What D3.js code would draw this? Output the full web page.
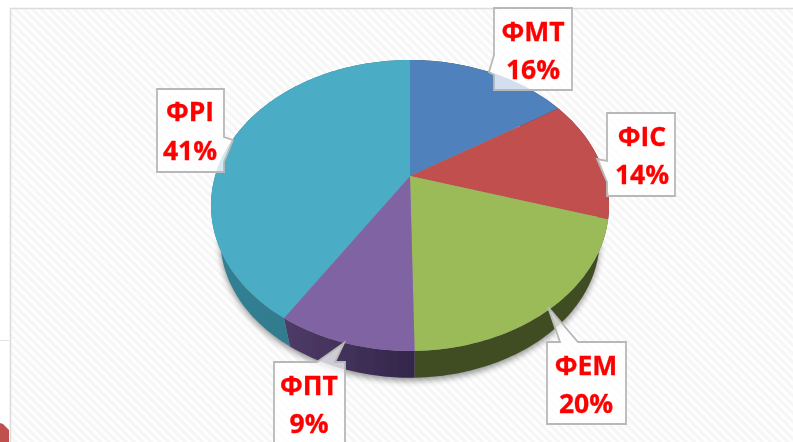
<!DOCTYPE html>
<html>
<head>
<meta charset="utf-8">
<script src="https://cdn.jsdelivr.net/npm/d3@7"></script>
<style>
  html, body { margin: 0; padding: 0; background: #fff; overflow: hidden; }
  svg { display: block; }
</style>
</head>
<body>
<div id="chart"></div>
<script>
// Chart data
const categories = ["ΦMT", "ΦIC", "ΦEM", "ΦПT", "ΦPI"];
const values = [16, 13.7, 20, 9.3, 41];
const percentLabels = ["16%", "14%", "20%", "9%", "41%"];

const topColors = ["#4f81bd", "#c0504d", "#9bbb59", "#8064a2", "#4bacc6"];
const sideColors = [["#2a4464", "#2a4464"], ["#66292a", "#66292a"], ["#3f4d23", "#3f4d23"], ["#4e3b68", "#33264a"], ["#338196", "#2e7183"]];

const width = 793;
const height = 442;

// Callout outlines: label box, then the pointer running to the slice
const callouts = [
  { outline: [[494, 8], [572, 8], [572, 90], [494, 90], [494, 75], [489, 72], [494, 55]], textX: 533, textY: [41, 79] },
  { outline: [[607, 113], [675, 113], [675, 196], [607, 196], [607, 182], [597, 159], [607, 161]], textX: 642, textY: [146, 184] },
  { outline: [[547, 342], [560, 342], [548, 307], [578, 342], [626, 342], [626, 424], [547, 424]], textX: 586, textY: [375, 413] },
  { outline: [[274, 362], [317, 362], [344, 343], [335, 362], [345, 362], [345, 460], [274, 460]], textX: 309, textY: [395, 433] },
  { outline: [[157, 89], [224, 89], [224, 137], [233, 140], [224, 162], [224, 172], [157, 172]], textX: 190, textY: [121, 160] }
];

const svg = d3.select("#chart")
  .append("svg")
  .attr("width", width)
  .attr("height", height);

const defs = svg.append("defs");

// Faint diagonal hatch of the plot area
const hatch = defs.append("pattern")
  .attr("id", "hatch")
  .attr("width", 6)
  .attr("height", 6)
  .attr("patternUnits", "userSpaceOnUse")
  .attr("patternTransform", "rotate(45)");
hatch.append("rect").attr("width", 6).attr("height", 6).attr("fill", "#fefefe");
hatch.append("rect").attr("width", 6).attr("height", 3).attr("fill", "#f6f6f6");

defs.append("filter").attr("id", "shadow")
  .attr("x", "-10%").attr("y", "-10%").attr("width", "120%").attr("height", "120%")
  .append("feGaussianBlur").attr("stdDeviation", 3);

defs.append("filter").attr("id", "soft")
  .attr("x", "-5%").attr("y", "-5%").attr("width", "110%").attr("height", "110%")
  .append("feGaussianBlur").attr("stdDeviation", 0.45);

// Side wall shading, lighter towards the left
sideColors.forEach((c, i) => {
  const g = defs.append("linearGradient")
    .attr("id", "side" + i)
    .attr("x1", 0).attr("x2", 1).attr("y1", 0).attr("y2", 0);
  g.append("stop").attr("offset", "0%").attr("stop-color", c[0]);
  g.append("stop").attr("offset", "100%").attr("stop-color", c[1]);
});

// Frame
svg.append("rect")
  .attr("x", 10.5).attr("y", 8.5)
  .attr("width", width + 20).attr("height", height + 20)
  .attr("fill", "url(#hatch)")
  .attr("stroke", "#dcdcdc")
  .attr("stroke-width", 1.5);

// Bits of the neighbouring slide at the left edge
svg.append("line")
  .attr("x1", 0).attr("x2", 9).attr("y1", 340.5).attr("y2", 340.5)
  .attr("stroke", "#e2e2e2");
svg.append("path")
  .attr("d", d3.line()([[0, 423], [3, 424], [9, 430], [9, 442], [0, 442]]))
  .attr("fill", "#c0504d");

// Pie seen in perspective: the disc is projected, so the apex sits above the ellipse centre
const pie = d3.pie().sort(null).value(d => d)(values);

const cx = 410;
const apexY = 176;
const scaleX = 194.9;
const scaleY = 139.5;
const tilt = -0.2027;

function project(angle, r, shrink, dy) {
  const u = r * Math.sin(angle);
  const v = -r * Math.cos(angle);
  const w = 1 + tilt * v;
  return [cx + shrink * scaleX * u / w, apexY + dy + shrink * scaleY * v / w];
}

function arcPoints(d, shrink, dy) {
  const n = Math.max(2, Math.ceil((d.endAngle - d.startAngle) * 40));
  return d3.range(n + 1).map(i => {
    const a = d.startAngle + (d.endAngle - d.startAngle) * i / n;
    return project(a, 1, shrink, dy);
  });
}

const line = d3.line();
const lowerShrink = 0.953;
const lowerDy = 35;

// Soft shadow under the pie
svg.append("path")
  .attr("d", line(d3.range(0, 361, 3).map(a => project(a * Math.PI / 180, 1, lowerShrink, lowerDy + 3))) + "Z")
  .attr("fill", "#000")
  .attr("opacity", 0.42)
  .attr("filter", "url(#shadow)");

// Side wall
const pieGroup = svg.append("g").attr("filter", "url(#soft)");

pieGroup.selectAll(".side")
  .data(pie)
  .enter()
  .append("path")
  .attr("class", "side")
  .attr("d", d => line(arcPoints(d, 1, 0).concat(arcPoints(d, lowerShrink, lowerDy).reverse())) + "Z")
  .attr("fill", (d, i) => `url(#side${i})`);

// Top face
pieGroup.selectAll(".slice")
  .data(pie)
  .enter()
  .append("path")
  .attr("class", "slice")
  .attr("d", d => line([[cx, apexY]].concat(arcPoints(d, 1, 0))) + "Z")
  .attr("fill", (d, i) => topColors[i]);

// Data labels
const labels = svg.selectAll(".callout")
  .data(categories)
  .enter()
  .append("g")
  .attr("class", "callout")
  .attr("filter", "url(#soft)");

labels.append("path")
  .attr("d", (d, i) => line(callouts[i].outline) + "Z")
  .attr("fill", "#fff")
  .attr("fill-opacity", 0.75)
  .attr("stroke", "#b8b8b8")
  .attr("stroke-width", 1.8);

labels.append("text")
  .attr("x", (d, i) => callouts[i].textX)
  .attr("y", (d, i) => callouts[i].textY[0])
  .text(d => d);

labels.append("text")
  .attr("x", (d, i) => callouts[i].textX)
  .attr("y", (d, i) => callouts[i].textY[1])
  .text((d, i) => percentLabels[i]);

labels.selectAll("text")
  .attr("text-anchor", "middle")
  .attr("font-family", "'Open Sans', 'Noto Sans', sans-serif")
  .attr("font-weight", 700)
  .attr("font-size", 26.5)
  .attr("fill", "#ff0000")
  .attr("stroke", "#ff0000")
  .attr("stroke-width", 0.3);
</script>
</body>
</html>
